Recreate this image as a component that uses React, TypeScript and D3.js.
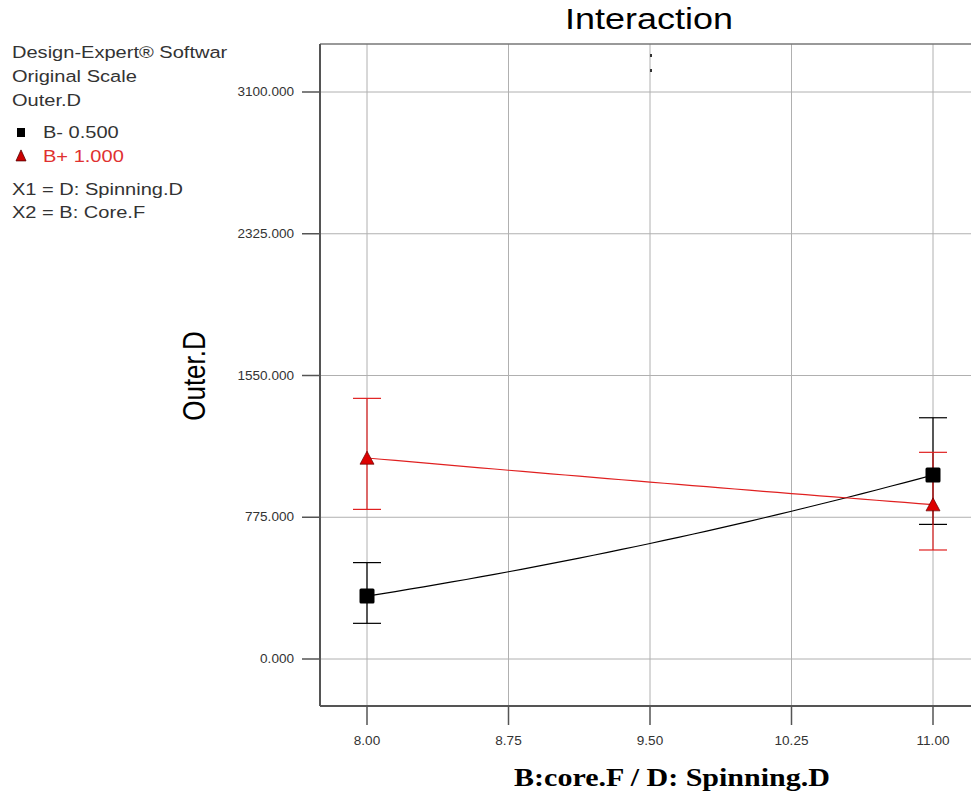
import React from "react";
import * as d3 from "d3";

const xTicks = [8.0, 8.75, 9.5, 10.25, 11.0];
const yTicks = [0, 775, 1550, 2325, 3100];
const levelsX = [8.0, 11.0];
const seriesNames = ["B- 0.500", "B+ 1.000"];
const seriesColors = ["#000000", "#e02020"];
const meanLow = [344, 1006]; // B- at D=8, D=11
const upperLow = [527, 1319];
const lowerLow = [195, 736];
const meanHigh = [1099, 844]; // B+
const upperHigh = [1425, 1130];
const lowerHigh = [818, 596];
const legendLines = ["Design-Expert® Softwar", "Original Scale", "Outer.D"];
const factorLines = ["X1 = D: Spinning.D", "X2 = B: Core.F"];

const W = 971;
const H = 795;
const SX = 1.18;

function triPath(w: number, h: number) {
  const p = d3.path();
  p.moveTo(0, -h * 0.6);
  p.lineTo(w / 2, h * 0.4);
  p.lineTo(-w / 2, h * 0.4);
  p.closePath();
  return p.toString();
}

export default function App() {
  const x = d3.scaleLinear().domain([8, 11]).range([367, 933]);
  const y = d3.scaleLinear().domain([0, 3100]).range([659, 92]);
  const left = 320, top = 44, bottom = 706, right = 975;

  // model curve on square-root response scale between the two levels
  const curve = (m: number[]) => {
    const a = Math.sqrt(m[0]), b = Math.sqrt(m[1]);
    const pts = d3.range(0, 41).map((i) => {
      const t = i / 40;
      const xv = levelsX[0] + t * (levelsX[1] - levelsX[0]);
      const s = a + t * (b - a);
      return [xv, s * s] as [number, number];
    });
    return d3.line<[number, number]>().x((d) => x(d[0])).y((d) => y(d[1]))(pts) || "";
  };

  const series = [
    { mean: meanLow, up: upperLow, lo: lowerLow, color: seriesColors[0], shape: "square" },
    { mean: meanHigh, up: upperHigh, lo: lowerHigh, color: seriesColors[1], shape: "tri" },
  ];

  const triBig = triPath(14, 13);
  const triLegend = triPath(10, 11);

  return (
    <svg width={W} height={H} style={{ position: "absolute", left: 0, top: 0, background: "#fff" }}
      fontFamily="Arial, 'Liberation Sans', sans-serif">
      <rect x={0} y={0} width={W} height={H} fill="#fff" />
      {/* title */}
      <g transform={`translate(649,29) scale(1.24,1)`}>
        <text textAnchor="middle" fontSize={29} fill="#000">Interaction</text>
      </g>
      {/* legend */}
      {legendLines.map((t, i) => (
        <g key={t} transform={`translate(12,${58 + i * 24}) scale(${SX},1)`}>
          <text fontSize={17} fill="#333">{t}</text>
        </g>
      ))}
      <rect x={17} y={128} width={8} height={9} fill="#000" />
      <g transform={`translate(43,138) scale(${SX},1)`}>
        <text fontSize={17} fill="#333">{seriesNames[0]}</text>
      </g>
      <path d={triLegend} transform="translate(21,156.5)" fill="#cc0000" stroke="#550000" strokeWidth={0.8} />
      <g transform={`translate(43,162) scale(${SX},1)`}>
        <text fontSize={17} fill="#e03030">{seriesNames[1]}</text>
      </g>
      {factorLines.map((t, i) => (
        <g key={t} transform={`translate(12,${195 + i * 23}) scale(${SX},1)`}>
          <text fontSize={17} fill="#333">{t}</text>
        </g>
      ))}

      {/* grid */}
      {xTicks.map((t) => (
        <line key={"gx" + t} x1={x(t)} x2={x(t)} y1={top} y2={bottom} stroke="#b0b0b0" strokeWidth={1} />
      ))}
      {yTicks.map((t) => (
        <line key={"gy" + t} x1={left} x2={right} y1={y(t)} y2={y(t)} stroke="#b0b0b0" strokeWidth={1} />
      ))}
      {/* frame */}
      <line x1={left} x2={right} y1={top} y2={top} stroke="#777" strokeWidth={1.5} />
      <line x1={left} x2={left} y1={top} y2={bottom} stroke="#555" strokeWidth={2} />
      <line x1={left} x2={right} y1={bottom} y2={bottom} stroke="#555" strokeWidth={2} />
      {/* top marks */}
      <rect x={650} y={54} width={2} height={3} fill="#333" />
      <rect x={650} y={69} width={2} height={3} fill="#333" />

      {/* y ticks */}
      {yTicks.map((t) => (
        <g key={"ty" + t}>
          <line x1={302} x2={left} y1={y(t)} y2={y(t)} stroke="#555" strokeWidth={1.5} />
          <g transform={`translate(294,${y(t) + 4}) scale(1.13,1)`}>
            <text textAnchor="end" fontSize={12} fill="#333">{d3.format(".3f")(t)}</text>
          </g>
        </g>
      ))}
      {/* x ticks */}
      {xTicks.map((t) => (
        <g key={"tx" + t}>
          <line x1={x(t)} x2={x(t)} y1={bottom} y2={725} stroke="#555" strokeWidth={1.5} />
          <g transform={`translate(${x(t)},745) scale(1.13,1)`}>
            <text textAnchor="middle" fontSize={12} fill="#333">{d3.format(".2f")(t)}</text>
          </g>
        </g>
      ))}

      {/* axis titles */}
      <g transform={`translate(205,376) scale(1.18,1) rotate(-90)`}>
        <text textAnchor="middle" fontSize={26} fill="#000">Outer.D</text>
      </g>
      <g transform={`translate(672,786) scale(1.2,1)`}>
        <text textAnchor="middle" fontSize={25} fontWeight="bold" fill="#000"
          fontFamily="'Times New Roman', 'Liberation Serif', serif">B:core.F / D: Spinning.D</text>
      </g>

      {/* error bars */}
      {series.map((s, si) =>
        levelsX.map((lv, i) => (
          <g key={"eb" + si + i} stroke={s.color} strokeWidth={1.2}>
            <line x1={x(lv)} x2={x(lv)} y1={y(s.up[i])} y2={y(s.lo[i])} />
            <line x1={x(lv) - 14} x2={x(lv) + 14} y1={y(s.up[i])} y2={y(s.up[i])} />
            <line x1={x(lv) - 14} x2={x(lv) + 14} y1={y(s.lo[i])} y2={y(s.lo[i])} />
          </g>
        ))
      )}
      {/* lines */}
      {series.map((s, si) => (
        <path key={"ln" + si} d={curve(s.mean)} fill="none" stroke={s.color} strokeWidth={1.2} />
      ))}
      {/* markers */}
      {series.map((s, si) =>
        levelsX.map((lv, i) =>
          s.shape === "square" ? (
            <rect key={"mk" + si + i} x={x(lv) - 7.5} y={y(s.mean[i]) - 7.5} width={15} height={15} rx={1.5} fill="#000" />
          ) : (
            <path key={"mk" + si + i} d={triBig} transform={`translate(${x(lv)},${y(s.mean[i]) + 1})`}
              fill="#dd0000" stroke="#660000" strokeWidth={0.7} />
          )
        )
      )}
    </svg>
  );
}
